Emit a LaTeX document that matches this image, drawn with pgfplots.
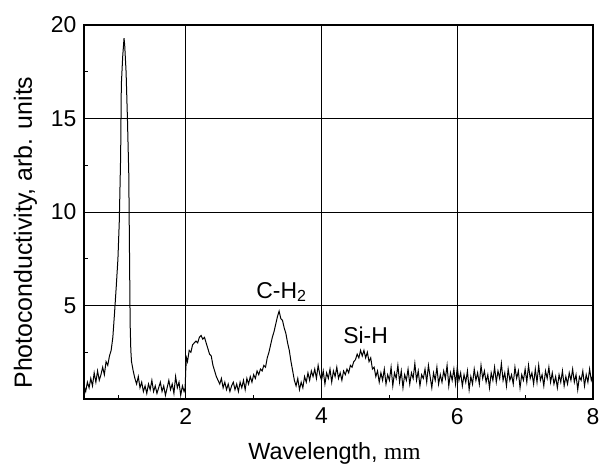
\documentclass[border=0pt]{standalone}
\usepackage{fontspec}
\setmainfont{Liberation Sans}
\newfontfamily\serifmm{Liberation Serif}
\usepackage{pgfplots}
\pgfplotsset{compat=1.18}
\begin{document}
\begin{tikzpicture}
\begin{axis}[
  name=ax,
  scale only axis,
  width=509bp, height=374bp,
  xmin=0.5, xmax=8, ymin=0, ymax=20,
  xtick={2,4,6,8}, ytick={5,10,15,20},
  minor xtick={1,3,5,7}, minor ytick={2.5,7.5,12.5,17.5},
  xtick pos=bottom, ytick pos=left,
  tick align=inside,
  major tick length=0pt, minor tick length=4bp,
  tick style={black, line width=0.8bp},
  grid=major,
  major grid style={black, line width=0.9bp},
  axis line style={black, line width=1.2bp},
  /pgf/number format/assume math mode=true,
  tick label style={font=\fontsize{23}{27}\selectfont},
  xticklabel style={yshift=-5.5bp},
  yticklabel style={xshift=-4bp},
  xlabel={Wavelength, {\serifmm mm}},
  ylabel={Photoconductivity, arb. units},
  xlabel style={font=\fontsize{23.5}{28}\selectfont, at={(axis description cs:0.492,-0.163)}, anchor=base},
  ylabel style={font=\fontsize{25}{30}\selectfont, at={(axis description cs:-0.1022,0.445)}, anchor=base, rotate=0},
]
\addplot[black, line width=1bp] coordinates {
(0.5,0.7)(0.525,0.4)(0.55,0.9)(0.575,0.6)(0.6,1.1)(0.625,0.7)(0.65,1.4)(0.675,0.9)(0.7,1.5)(0.725,1.0)
(0.75,1.3)(0.775,1.7)(0.8,1.3)(0.825,2.0)(0.85,1.8)(0.875,2.3)(0.9,2.6)(0.925,3.3)(0.95,4.6)(0.975,6.0)
(1.0,7.5)(1.02,9.5)(1.04,13)(1.05,16.8)(1.07,18.3)(1.09,19.3)(1.1,18.9)(1.12,17.5)(1.14,15)(1.16,12)
(1.17,8)(1.18,4)(1.19,2.6)(1.2,2.0)(1.225,1.5)(1.25,1.1)(1.275,0.8)(1.3,1.2)(1.325,0.6)(1.35,0.9)
(1.375,0.4)(1.4,0.7)(1.425,0.3)(1.45,0.8)(1.475,0.5)(1.5,1.0)(1.525,0.4)(1.55,0.7)(1.575,0.3)(1.6,0.6)
(1.625,0.9)(1.65,0.4)(1.675,0.7)(1.7,0.2)(1.725,0.6)(1.75,1.0)(1.775,0.5)(1.8,0.8)(1.825,0.3)(1.85,1.2)
(1.875,0.6)(1.9,0.9)(1.925,0.2)(1.95,0.7)(1.975,0.4)(1.99,0.6)(2.0,1.6)(2.01,2.2)(2.025,2.0)(2.05,2.6)
(2.075,2.5)(2.1,2.9)(2.125,3.0)(2.15,3.1)(2.175,3.0)(2.2,3.3)(2.225,3.4)(2.25,3.2)(2.275,3.3)(2.3,3.0)
(2.325,2.7)(2.35,2.4)(2.375,2.3)(2.4,1.8)(2.425,1.5)(2.45,1.2)(2.475,1.0)(2.5,0.8)(2.525,1.1)(2.55,0.6)
(2.575,0.9)(2.6,0.5)(2.625,0.8)(2.65,0.4)(2.675,0.7)(2.7,0.9)(2.725,0.5)(2.75,0.8)(2.775,0.4)(2.8,0.9)
(2.825,0.6)(2.85,1.0)(2.875,0.5)(2.9,1.1)(2.925,0.8)(2.95,1.2)(2.975,0.9)(3.0,1.3)(3.025,1.1)(3.05,1.5)
(3.075,1.3)(3.1,1.6)(3.125,1.5)(3.15,1.8)(3.175,1.7)(3.2,2.2)(3.225,2.5)(3.25,2.9)(3.275,3.3)(3.3,3.6)
(3.325,4.0)(3.35,4.4)(3.375,4.7)(3.4,4.3)(3.425,4.2)(3.45,3.8)(3.475,3.5)(3.5,3.0)(3.525,2.6)(3.55,2.0)
(3.575,1.5)(3.6,1.0)(3.625,0.7)(3.65,1.1)(3.675,0.5)(3.7,0.9)(3.725,0.6)(3.75,1.2)(3.775,0.9)(3.8,1.4)
(3.825,1.0)(3.85,1.5)(3.875,1.2)(3.9,1.6)(3.925,1.1)(3.95,1.8)(3.975,1.3)(4.0,1.0)(4.025,1.5)(4.05,0.8)
(4.075,1.4)(4.1,1.1)(4.125,1.6)(4.15,0.9)(4.175,1.5)(4.2,1.2)(4.225,1.7)(4.25,1.1)(4.275,1.4)(4.3,1.0)
(4.325,1.5)(4.35,1.3)(4.375,1.6)(4.4,1.4)(4.425,1.8)(4.45,1.7)(4.475,2.0)(4.5,2.1)(4.525,2.4)(4.55,2.2)
(4.575,2.6)(4.6,2.3)(4.625,2.6)(4.65,2.2)(4.675,2.5)(4.7,2.0)(4.725,2.2)(4.75,1.6)(4.775,1.7)(4.8,1.2)
(4.825,1.5)(4.85,0.9)(4.875,1.4)(4.9,1.0)(4.925,1.6)(4.95,0.8)(4.975,1.3)(5.0,1.0)(5.025,1.7)(5.05,0.7)
(5.075,1.4)(5.1,1.1)(5.125,1.8)(5.15,0.9)(5.175,1.5)(5.2,0.6)(5.225,1.3)(5.25,1.0)(5.275,1.6)(5.3,0.8)
(5.325,1.4)(5.35,1.1)(5.375,1.9)(5.4,1.0)(5.425,1.5)(5.45,0.7)(5.475,1.3)(5.5,1.1)(5.525,1.6)(5.55,0.9)
(5.575,1.8)(5.6,1.2)(5.625,0.6)(5.65,1.4)(5.675,1.0)(5.7,1.7)(5.725,0.8)(5.75,1.3)(5.775,0.9)(5.8,1.5)
(5.825,1.1)(5.85,1.8)(5.875,0.7)(5.9,1.4)(5.925,1.0)(5.95,1.6)(5.975,0.8)(6.0,1.7)(6.025,1.0)(6.05,1.4)
(6.075,0.7)(6.1,1.3)(6.125,0.9)(6.15,1.5)(6.175,0.5)(6.2,1.2)(6.225,0.8)(6.25,1.6)(6.275,1.0)(6.3,1.4)
(6.325,0.8)(6.35,1.8)(6.375,1.1)(6.4,1.5)(6.425,0.9)(6.45,1.3)(6.475,0.6)(6.5,1.4)(6.525,1.0)(6.55,1.7)
(6.575,0.9)(6.6,1.5)(6.625,1.1)(6.65,1.9)(6.675,1.0)(6.7,1.4)(6.725,0.7)(6.75,1.6)(6.775,1.0)(6.8,1.3)
(6.825,0.8)(6.85,1.7)(6.875,1.1)(6.9,1.5)(6.925,0.6)(6.95,1.3)(6.975,1.0)(7.0,1.6)(7.025,0.9)(7.05,1.8)
(7.075,1.1)(7.1,1.4)(7.125,0.8)(7.15,1.6)(7.175,0.9)(7.2,1.8)(7.225,1.0)(7.25,1.3)(7.275,0.7)(7.3,1.5)
(7.325,1.1)(7.35,1.7)(7.375,0.9)(7.4,1.4)(7.425,0.8)(7.45,1.2)(7.475,0.6)(7.5,1.3)(7.525,0.9)(7.55,1.5)
(7.575,0.7)(7.6,1.2)(7.625,0.8)(7.65,1.4)(7.675,1.0)(7.7,1.6)(7.725,0.9)(7.75,1.3)(7.775,0.5)(7.8,1.2)
(7.825,1.0)(7.85,1.5)(7.875,0.7)(7.9,1.3)(7.925,0.9)(7.95,1.6)(7.975,1.0)(8.0,1.3)
};
\node[font=\fontsize{23}{27}\selectfont] at (axis cs:3.41,5.72) {C-H\textsubscript{2}};
\node[font=\fontsize{23}{27}\selectfont] at (axis cs:4.65,3.39) {Si-H};
\end{axis}
\pgfresetboundingbox
\path (ax.south west) ++(-84bp,-72bp) rectangle ++(604bp,471bp);
\end{tikzpicture}
\end{document}
